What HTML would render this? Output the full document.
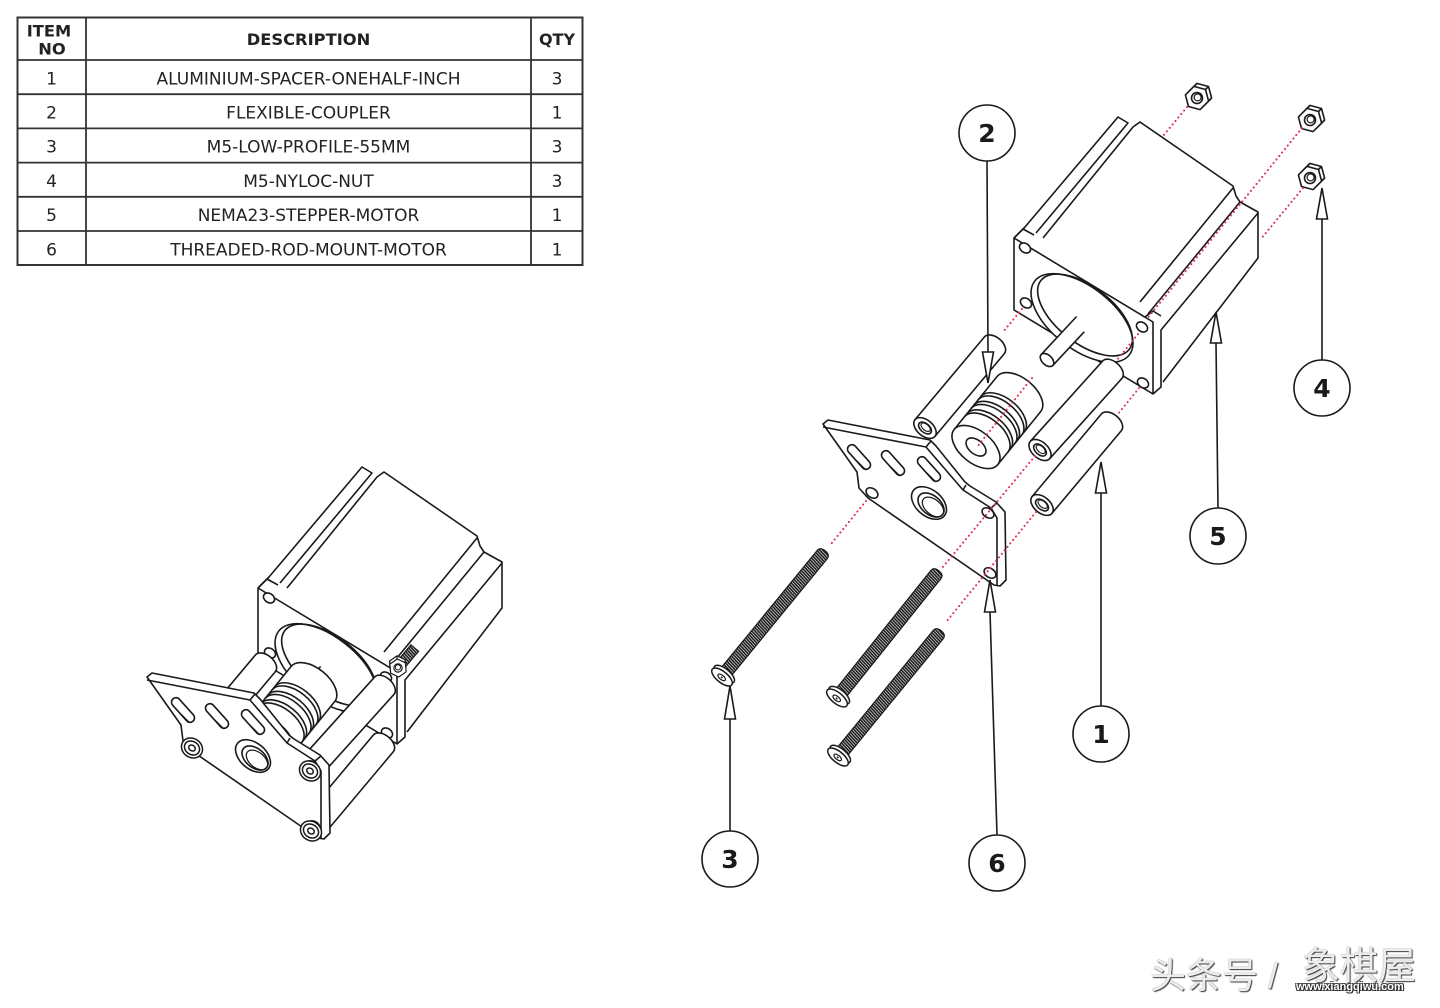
<!DOCTYPE html>
<html><head><meta charset="utf-8"><style>
html,body{margin:0;padding:0;background:#fff;}
body{width:1440px;height:1008px;position:relative;overflow:hidden;}
svg{position:absolute;left:0;top:0;}
.wm{position:absolute;font-family:"Liberation Sans","Noto Sans CJK SC",sans-serif;color:#ececec;text-shadow:1px 1px 1px #3a3a3a,0 0 1px #777;white-space:nowrap;line-height:1;}
</style></head><body>
<svg width="1440" height="1008" viewBox="0 0 1440 1008" xmlns="http://www.w3.org/2000/svg">
<defs>
<pattern id="thr" patternUnits="userSpaceOnUse" width="2.3" height="40" patternTransform="skewX(-8)">
<rect width="2.3" height="40" fill="#e8e8e8"/><rect width="1.6" height="40" fill="#1a1a1a"/>
</pattern>

<g id="motor" fill="#fff" stroke="#1a1a1a" stroke-width="1.6" stroke-linejoin="round">
<path stroke="none" d="M1014,238 L1025,227 L1118,117 L1128,123 L1140,122 L1233,186 L1240,202 L1258,212 L1258,258 L1163,382 L1153,394 L1014,310 Z"/>
<path fill="none" d="M1014,238 L1025,227 L1118,117 L1128,123 L1036,233"/>
<path fill="none" d="M1043,238 L1133,127 L1140,122 L1233,186 L1236,196 L1240,202 L1258,212 L1258,258 L1163,382"/>
<path fill="none" d="M1233,188 L1140,302 M1240,202 L1148,314 M1258,213 L1161,330 L1161,387 L1153,394"/>
<path d="M1014,238 L1153,322 L1153,394 L1014,310 Z"/>
<path fill="none" d="M1014,238 L1023,229 L1034,235 M1145,317 L1153,311 L1161,316"/>
<ellipse cx="1025" cy="248" rx="6" ry="4.5" transform="rotate(35 1025 248)"/>
<ellipse cx="1026" cy="303" rx="6" ry="4.5" transform="rotate(35 1026 303)"/>
<ellipse cx="1142" cy="327" rx="6" ry="4.5" transform="rotate(35 1142 327)"/>
<ellipse cx="1143" cy="383" rx="6" ry="4.5" transform="rotate(35 1143 383)"/>
<ellipse cx="1082" cy="318" rx="60" ry="31" transform="rotate(38 1082 318)"/>
<ellipse cx="1085" cy="315" rx="56" ry="28" fill="none" transform="rotate(38 1085 315)"/>
<g transform="translate(1047,360) rotate(-47)">
<path stroke="none" d="M0,-8 L52,-8 L52,8 L0,8 Z"/>
<path fill="none" d="M0,-8 L52,-8 M0,8 L46,8"/>
<ellipse rx="5" ry="8"/>
</g>
</g>

<g id="plate" fill="#fff" stroke="#1a1a1a" stroke-width="1.6" stroke-linejoin="round">
<path d="M823,424 L828,420 L930,440 L936,446 L965,482 L970,486 L996,502 L1005,512 L1006,580 L1000,586 L994,585 L868,498 L859,488 L857,472 Z"/>
<path fill="none" d="M823,427 L926,447 L963,490 L991,508 L997,518 L997,585 M926,447 L931,441 M991,508 L997,503 M963,490 L966,485"/>
<rect x="-15" y="-4.5" width="30" height="9" rx="4.5" transform="translate(859,457) rotate(48)"/>
<rect x="-15" y="-4.5" width="30" height="9" rx="4.5" transform="translate(893,463) rotate(48)"/>
<rect x="-15" y="-4.5" width="30" height="9" rx="4.5" transform="translate(929,469) rotate(48)"/>
<path fill="none" stroke-width="1.1" d="M857,461 L866,470 M891,467 L900,476 M927,473 L936,482"/>
<ellipse cx="872" cy="493" rx="6.5" ry="4.5" transform="rotate(35 872 493)"/>
<ellipse cx="929" cy="503" rx="20" ry="13" transform="rotate(40 929 503)"/>
<ellipse cx="931" cy="505" rx="15" ry="9.5" fill="none" transform="rotate(40 931 505)"/>
<ellipse cx="933" cy="507" rx="12.5" ry="7.5" fill="none" stroke-width="1.2" transform="rotate(40 933 507)"/>
<ellipse cx="988" cy="513" rx="6.5" ry="4.5" transform="rotate(35 988 513)"/>
<ellipse cx="990" cy="573" rx="6.5" ry="4.5" transform="rotate(35 990 573)"/>
</g>

<g id="spacer" fill="#fff" stroke="#1a1a1a" stroke-width="1.6" stroke-linejoin="round">
<path d="M0,-13 L108,-13 A8,13 0 0 1 108,13 L0,13 Z"/>
<ellipse rx="8" ry="13"/>
<ellipse rx="4.5" ry="7.5"/>
<ellipse cx="1" rx="3" ry="5.5" fill="none" stroke-width="1.1"/>
</g>

<g id="coupler" fill="#fff" stroke="#1a1a1a" stroke-width="1.6" stroke-linejoin="round">
<path d="M0,-28 L68,-28 A16,28 0 0 1 68,28 L0,28 Z"/>
<path fill="none" d="M16,-28 A16,28 0 0 1 16,28 M20,-28 A16,28 0 0 1 20,28 M27,-28 A16,28 0 0 1 27,28 M31,-28 A16,28 0 0 1 31,28 M38,-28 A16,28 0 0 1 38,28 M42,-28 A16,28 0 0 1 42,28"/>
<ellipse rx="16" ry="28"/>
<ellipse rx="7" ry="11.5"/>
</g>

<g id="screw" stroke="#1a1a1a" stroke-linejoin="round">
<path fill="url(#thr)" stroke-width="1.2" d="M3,-6.5 L158,-6.5 Q163,-6.5 163,0 Q163,6.5 158,6.5 L3,6.5 Z"/>
<ellipse cx="3.5" rx="5.5" ry="12.5" fill="#fff" stroke-width="1.5"/>
<ellipse cx="0" rx="5.5" ry="12.5" fill="#fff" stroke-width="1.5"/>
<ellipse cx="-0.5" rx="2.2" ry="4.5" fill="none" stroke-width="1.2"/>
<circle cx="-0.5" r="1" fill="#222" stroke="none"/>
</g>

<g id="nut" fill="#fff" stroke="#1a1a1a" stroke-width="1.6" stroke-linejoin="round">
<polygon points="14.6,0.1 6.1,8.6 -5.5,5.5 -8.6,-6.1 -0.1,-14.6 11.5,-11.5"/>
<polygon points="11.6,3.1 3.1,11.6 -8.5,8.5 -11.6,-3.1 -3.1,-11.6 8.5,-8.5"/>
<path fill="none" d="M11.6,3.1 L14.6,0.1 M8.5,-8.5 L11.5,-11.5 M-3.1,-11.6 L-0.1,-14.6"/>
<circle r="5.5" fill="none"/>
<circle cx="0.6" cy="-0.6" r="3.5" fill="none" stroke-width="1.2"/>
</g>

<g id="head" fill="#fff" stroke="#1a1a1a" stroke-width="1.5">
<ellipse rx="11" ry="9.5" transform="rotate(35)"/>
<ellipse rx="8" ry="6.5" fill="none" transform="rotate(35)"/>
<ellipse rx="3.5" ry="2.8" fill="none" transform="rotate(35)"/>
</g>
</defs>

<!-- TABLE -->
<g font-family="'DejaVu Sans', Verdana, sans-serif" fill="#222">
<rect x="17.5" y="17.5" width="565" height="247.5" fill="none" stroke="#333" stroke-width="2"/>
<path d="M86,17.5 V265 M531,17.5 V265 M17.5,60 H582.5 M17.5,94.2 H582.5 M17.5,128.4 H582.5 M17.5,162.6 H582.5 M17.5,196.8 H582.5 M17.5,231 H582.5" stroke="#333" stroke-width="1.8" fill="none"/>
<text font-weight="bold" font-size="16.3" text-anchor="middle"><tspan x="49" y="36.5">ITEM</tspan><tspan x="52" y="54.5">NO</tspan></text>
<text font-weight="bold" font-size="16.3" text-anchor="middle" x="308.5" y="45">DESCRIPTION</text>
<text font-weight="bold" font-size="16" text-anchor="middle" x="557" y="45">QTY</text>
<g font-size="17" text-anchor="middle">
<text x="51.5" y="84.3">1</text><text x="308.5" y="84.3">ALUMINIUM-SPACER-ONEHALF-INCH</text><text x="557" y="84.3">3</text>
<text x="51.5" y="118.5">2</text><text x="308.5" y="118.5">FLEXIBLE-COUPLER</text><text x="557" y="118.5">1</text>
<text x="51.5" y="152.7">3</text><text x="308.5" y="152.7">M5-LOW-PROFILE-55MM</text><text x="557" y="152.7">3</text>
<text x="51.5" y="186.9">4</text><text x="308.5" y="186.9">M5-NYLOC-NUT</text><text x="557" y="186.9">3</text>
<text x="51.5" y="221.1">5</text><text x="308.5" y="221.1">NEMA23-STEPPER-MOTOR</text><text x="557" y="221.1">1</text>
<text x="51.5" y="255.3">6</text><text x="308.5" y="255.3">THREADED-ROD-MOUNT-MOTOR</text><text x="557" y="255.3">1</text>
</g>
</g>

<!-- ASSEMBLED VIEW -->
<use href="#motor" transform="translate(-756,350)"/>
<g transform="translate(398,668) rotate(-50)">
<rect x="0" y="-5" width="26" height="10" fill="url(#thr)" stroke="#1a1a1a" stroke-width="1.2"/>
<use href="#nut" transform="scale(0.75)"/>
</g>
<use href="#spacer" transform="translate(196,746) rotate(-50)"/>
<use href="#coupler" transform="translate(270,737) rotate(-51)"/>
<use href="#spacer" transform="translate(312,766) rotate(-48)"/>
<use href="#spacer" transform="translate(314,826) rotate(-50)"/>
<use href="#plate" transform="translate(-676,253)"/>
<use href="#head" transform="translate(192,748)"/>
<use href="#head" transform="translate(310,771)"/>
<use href="#head" transform="translate(311,831)"/>

<!-- EXPLODED VIEW -->
<use href="#nut" transform="translate(1197,98)"/>
<use href="#nut" transform="translate(1310,120)"/>
<use href="#nut" transform="translate(1310,178)"/>
<use href="#motor"/>
<use href="#spacer" transform="translate(925,428) rotate(-50)"/>
<use href="#coupler" transform="translate(976,447) rotate(-51)"/>
<use href="#spacer" transform="translate(1040,450) rotate(-48)"/>
<use href="#spacer" transform="translate(1042,505) rotate(-50)"/>
<use href="#plate"/>
<use href="#screw" transform="translate(722,677) rotate(-50.7)"/>
<use href="#screw" transform="translate(837,698) rotate(-51.3)"/>
<use href="#screw" transform="translate(838,757) rotate(-50.7)"/>

<!-- dotted axis lines -->
<g stroke="#e0304f" stroke-width="2" stroke-linecap="round" stroke-dasharray="0.1 4.4" fill="none">
<path d="M1187,107 L1163,136"/>
<path d="M1022,309 L1003,332"/>
<path d="M866,501 L831,544"/>
<path d="M1302,128 L1146,320"/>
<path d="M1138,334 L1117,360"/>
<path d="M1035,456 L942,568"/>
<path d="M1303,188 L1260,240"/>
<path d="M1139,388 L1118,414"/>
<path d="M1036,512 L946,622"/>
<path d="M1032,378 L977,447"/>
</g>

<!-- leaders -->
<g stroke="#1a1a1a" stroke-width="1.6" fill="#fff" stroke-linejoin="miter">
<path fill="none" d="M987,161 L988,352 M1322,360 L1322,219 M1218,508 L1216,343 M1101,706 L1101,493 M730,831 L730,719 M997,835 L990,612"/>
<polygon points="988,383 982.5,352 993.5,352"/>
<polygon points="1322,188 1316.5,219 1327.5,219"/>
<polygon points="1216,312 1210.5,343 1221.5,343"/>
<polygon points="1101,462 1095.5,493 1106.5,493"/>
<polygon points="730,686 724.5,719 735.5,719"/>
<polygon points="990,580 984.5,612 995.5,612"/>
<circle cx="987" cy="133" r="28"/>
<circle cx="1322" cy="388" r="28"/>
<circle cx="1218" cy="536" r="28"/>
<circle cx="1101" cy="734" r="28"/>
<circle cx="730" cy="859" r="28"/>
<circle cx="997" cy="863" r="28"/>
</g>
<g font-family="'DejaVu Sans', Verdana, sans-serif" font-weight="bold" font-size="25" text-anchor="middle" fill="#1a1a1a">
<text x="987" y="142">2</text>
<text x="1322" y="397">4</text>
<text x="1218" y="545">5</text>
<text x="1101" y="743">1</text>
<text x="730" y="868">3</text>
<text x="997" y="872">6</text>
</g>
</svg>
<div class="wm" style="left:1150px;top:958px;font-size:36px;">头条号 /</div>
<div class="wm" style="left:1302px;top:948px;font-size:38px;">象棋屋</div>
<div class="wm" style="left:1296px;top:982px;font-size:11px;font-weight:bold;color:#fff;text-shadow:1px 1px 0 #222,-1px -1px 0 #444,1px -1px 0 #444,-1px 1px 0 #444;">www.xiangqiwu.com</div>
</body></html>
